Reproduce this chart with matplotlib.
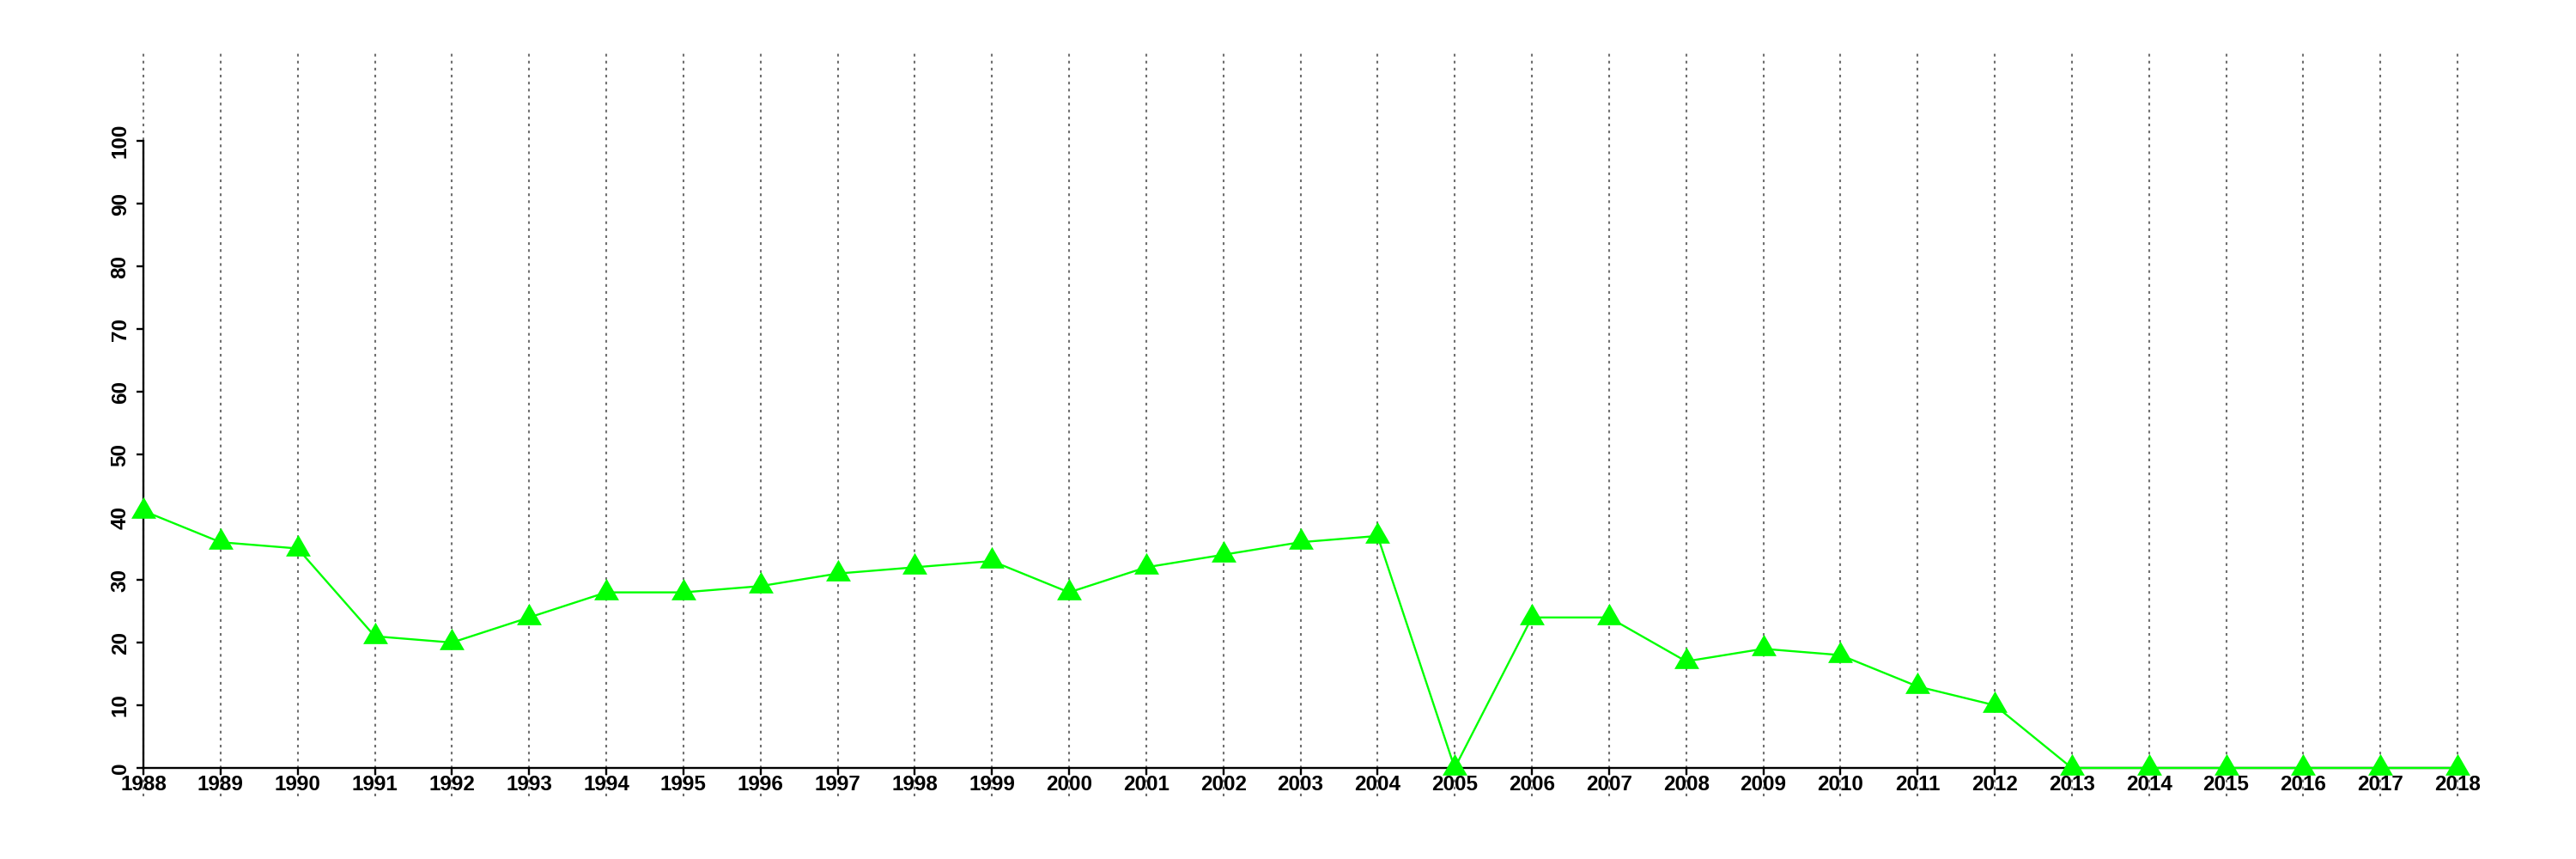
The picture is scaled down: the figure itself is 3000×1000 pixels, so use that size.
import matplotlib
matplotlib.use("Agg")
import matplotlib.pyplot as plt

years = list(range(1988, 2019))
values = [41, 36, 35, 21, 20, 24, 28, 28, 29, 31, 32, 33, 28, 32, 34, 36, 37,
          0, 24, 24, 17, 19, 18, 13, 10, 0, 0, 0, 0, 0, 0]
yticks = list(range(0, 101, 10))

plt.rcParams['font.family'] = ['Liberation Sans', 'DejaVu Sans']

fig = plt.figure(figsize=(30, 10), dpi=100)
# axes spanning from x=167px to 2862px, y from 60px (top) to 927px (bottom)
ax = fig.add_axes([167 / 3000, 1 - 927 / 1000, (2862 - 167) / 3000, 867 / 1000])
ymin, ymax = -4.52, 114.25
ax.set_xlim(years[0], years[-1])
ax.set_ylim(ymin, ymax)

ax.vlines(years, ymin, ymax, colors='#707070', linewidth=1.5,
          linestyles=(0, (1.5, 2.4)), zorder=1, clip_on=False)

tri = [(0, 1), (-0.866, -0.5), (0.866, -0.5), (0, 1)]
ax.plot(years, values, color='#00ff00', linewidth=1.7, marker=tri,
        markersize=24, markeredgewidth=0, markerfacecolor='#00ff00',
        zorder=3, clip_on=False)

for s in ['top', 'right']:
    ax.spines[s].set_visible(False)
ax.spines['left'].set_position(('data', years[0]))
ax.spines['bottom'].set_position(('data', 0))
ax.spines['left'].set_bounds(0, 100)
ax.spines['bottom'].set_bounds(years[0], years[-1])
ax.spines['left'].set_linewidth(1.7)
ax.spines['bottom'].set_linewidth(1.7)
ax.spines['left'].set_zorder(2)
ax.spines['bottom'].set_zorder(2)

ax.set_xticks(years)
ax.set_xticklabels([str(y) for y in years])
ax.set_yticks(yticks)
ax.set_yticklabels([str(v) for v in yticks], rotation=90, va='center')

ax.tick_params(axis='x', length=6, width=1.7, pad=0, labelsize=17.5)
ax.tick_params(axis='y', length=6, width=1.7, pad=5, labelsize=17.5)
for lab in ax.get_xticklabels() + ax.get_yticklabels():
    lab.set_fontweight('bold')

ax.patch.set_visible(False)
fig.savefig('out.png', dpi=100, facecolor='white')
